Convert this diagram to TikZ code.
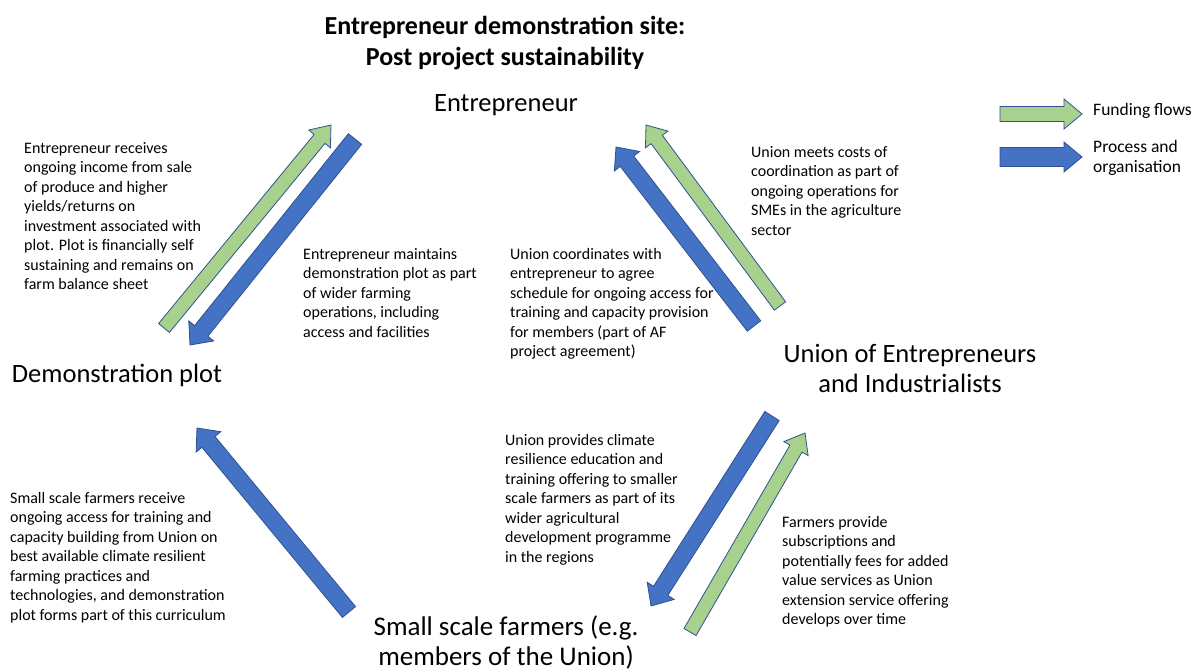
\documentclass[tikz,border=0pt]{standalone}
\usepackage{fontspec}
\setmainfont{Carlito}
\usetikzlibrary{calc}
\definecolor{fundgreen}{HTML}{A9D18E}
\definecolor{procblue}{HTML}{4472C4}
\definecolor{edgeblue}{HTML}{2F528F}
\tikzset{
  body/.style={align=left, inner sep=0pt, anchor=north west, font=\fontsize{16}{19.5}\selectfont},
  actor/.style={align=center, inner sep=0pt, font=\fontsize{26.5}{30}\selectfont},
  fund/.style={fill=fundgreen, draw=edgeblue, line width=0.8pt},
  proc/.style={fill=procblue, draw=edgeblue, line width=0.8pt},
}
% block arrow: #1 style, #2 tail, #3 tip, #4 half shaft, #5 half head
\newcommand{\flowarrow}[5]{%
  \coordinate (hb) at ($(#3)!18pt!(#2)$);
  \draw[#1] ($(#2)!#4pt!90:(#3)$) -- ($(hb)!#4pt!-90:(#2)$) -- ($(hb)!#5pt!-90:(#2)$)
    -- (#3) -- ($(hb)!#5pt!90:(#2)$) -- ($(hb)!#4pt!90:(#2)$) -- ($(#2)!#4pt!-90:(#3)$) -- cycle;
}
\begin{document}
\begin{tikzpicture}[x=1pt, y=-1pt]
   \useasboundingbox (0,0) rectangle (1198,670);
   \node[align=center, inner sep=0pt, font=\fontsize{26}{31}\selectfont\bfseries] (title) at (505,43)
      {Entrepreneur demonstration site:\\Post project sustainability};
   % actors
   \node[actor] (ent) at (506,105) {Entrepreneur};
   \node[actor] (plot) at (117,375) {Demonstration plot};
   \node[actor] (union) at (910,368) {Union of Entrepreneurs\\and Industrialists};
   \node[actor, font=\fontsize{27}{30}\selectfont] (farmers) at (506,642) {Small scale farmers (e.g.\\members of the Union)};
   % arrow ends
   \coordinate (plot-up-a) at (164,328);   \coordinate (plot-up-b) at (331,125);
   \coordinate (ent-dn-a) at (355,139);    \coordinate (ent-dn-b) at (190,345);
   \coordinate (union-bl-a) at (754,326);  \coordinate (union-bl-b) at (616,147);
   \coordinate (union-gr-a) at (780,306);  \coordinate (union-gr-b) at (646,125);
   \coordinate (union-dn-a) at (772,416);  \coordinate (union-dn-b) at (651,606);
   \coordinate (farm-up-a) at (690,632);   \coordinate (farm-up-b) at (805,433);
   \coordinate (farm-pl-a) at (349,612);   \coordinate (farm-pl-b) at (197,428);
   \flowarrow{fund}{plot-up-a}{plot-up-b}{7}{14}
   \flowarrow{proc}{ent-dn-a}{ent-dn-b}{8.5}{16}
   \flowarrow{proc}{union-bl-a}{union-bl-b}{8.5}{16}
   \flowarrow{fund}{union-gr-a}{union-gr-b}{7}{14}
   \flowarrow{proc}{union-dn-a}{union-dn-b}{8.5}{16}
   \flowarrow{fund}{farm-up-a}{farm-up-b}{7}{14}
   \flowarrow{proc}{farm-pl-a}{farm-pl-b}{8.5}{16}
   % texts
   \node[body] (income) at (24,142) {Entrepreneur receives\\ongoing income from sale\\of produce and higher\\yields/returns on\\investment associated with\\plot. Plot is financially self\\sustaining and remains on\\farm balance sheet};
   \node[body] (maintain) at (303,248) {Entrepreneur maintains\\demonstration plot as part\\of wider farming\\operations, including\\access and facilities};
   \node[body] (coord) at (510,248) {Union coordinates with\\entrepreneur to agree\\schedule for ongoing access for\\training and capacity provision\\for members (part of AF\\project agreement)};
   \node[body] (costs) at (751,146) {Union meets costs of\\coordination as part of\\ongoing operations for\\SMEs in the agriculture\\sector};
   \node[body] (educ) at (505,434) {Union provides climate\\resilience education and\\training offering to smaller\\scale farmers as part of its\\wider agricultural\\development programme\\in the regions};
   \node[body] (subs) at (782,516) {Farmers provide\\subscriptions and\\potentially fees for added\\value services as Union\\extension service offering\\develops over time};
   \node[body] (access) at (10,492) {Small scale farmers receive\\ongoing access for training and\\capacity building from Union on\\best available climate resilient\\farming practices and\\technologies, and demonstration\\plot forms part of this curriculum};
   % legend
   \coordinate (lg-f-a) at (1000,114); \coordinate (lg-f-b) at (1082,114);
   \coordinate (lg-p-a) at (1000,157); \coordinate (lg-p-b) at (1082,157);
   \flowarrow{fund}{lg-f-a}{lg-f-b}{7.5}{15}
   \flowarrow{proc}{lg-p-a}{lg-p-b}{9.5}{15}
   \node[body, font=\fontsize{17.5}{20.5}\selectfont] (lg-f) at (1093,103) {Funding flows};
   \node[body, font=\fontsize{17.5}{20.5}\selectfont] (lg-p) at (1093,140) {Process and\\organisation};
\end{tikzpicture}
\end{document}
